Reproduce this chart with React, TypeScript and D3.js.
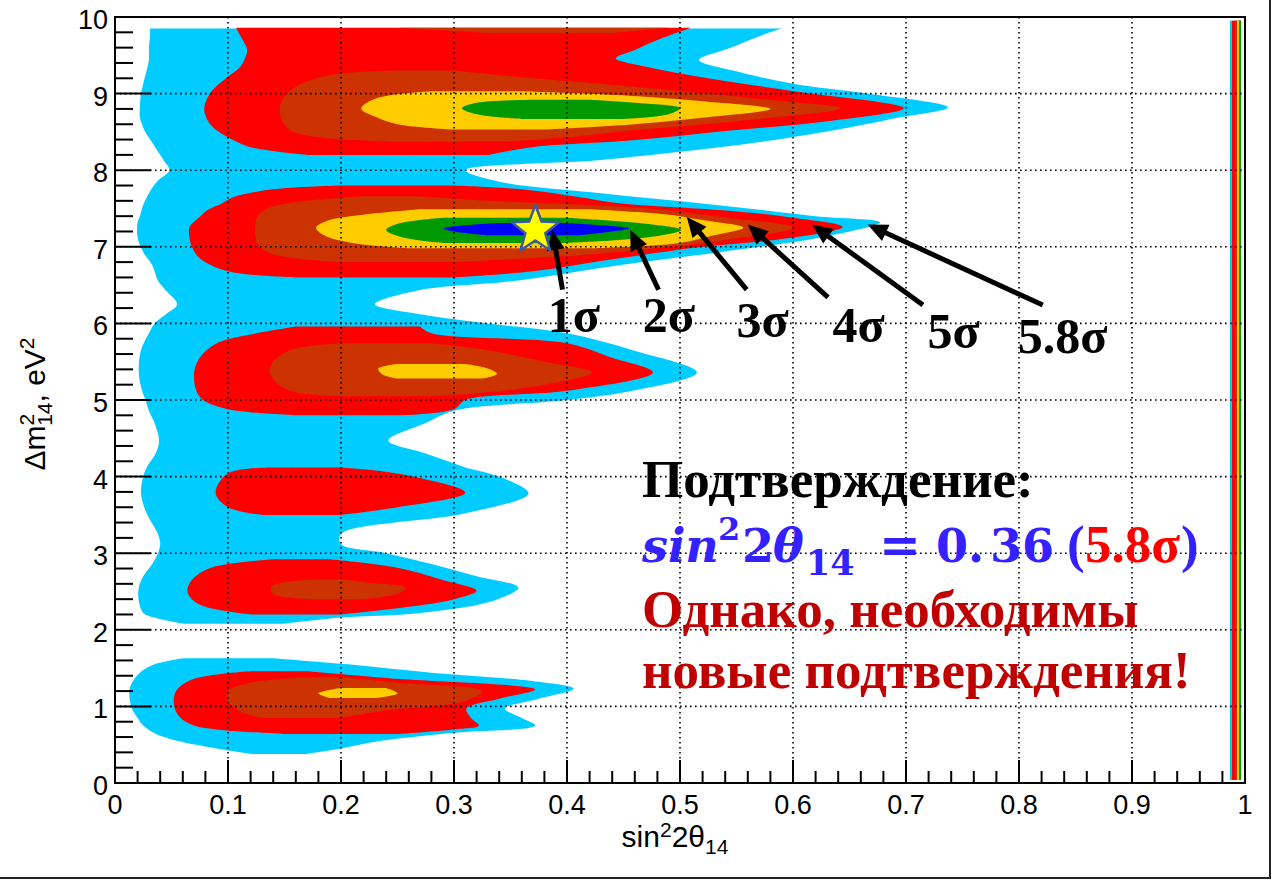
import React from "react";
import * as d3 from "d3";

const WIDTH = 1281;
const HEIGHT = 880;
const PLOT = { left: 115, right: 1245, top: 17, bottom: 783 };

// Axis ticks
const xTickValues = [0, 0.1, 0.2, 0.3, 0.4, 0.5, 0.6, 0.7, 0.8, 0.9, 1];
const xTickLabels = ["0", "0.1", "0.2", "0.3", "0.4", "0.5", "0.6", "0.7", "0.8", "0.9", "1"];
const yTickValues = [0, 1, 2, 3, 4, 5, 6, 7, 8, 9, 10];
const yTickLabels = ["0", "1", "2", "3", "4", "5", "6", "7", "8", "9", "10"];

// Each contour region: rows of [Δm², left sin²2θ, right sin²2θ]
type Row = [number, number, number];

// 5.8σ
const cyanUpper: Row[] = [
  [2.08, 0.06, 0.15], [2.16, 0.035, 0.2], [2.22, 0.025, 0.27], [2.38, 0.021, 0.335],
  [2.55, 0.021, 0.357], [2.7, 0.025, 0.32], [2.86, 0.033, 0.28], [3.0, 0.038, 0.24],
  [3.12, 0.04, 0.2], [3.25, 0.038, 0.2], [3.52, 0.028, 0.31], [3.78, 0.023, 0.366],
  [4.0, 0.025, 0.34], [4.12, 0.028, 0.31], [4.3, 0.036, 0.275], [4.47, 0.039, 0.242],
  [4.7, 0.035, 0.275], [4.86, 0.03, 0.3], [5.0, 0.027, 0.4], [5.12, 0.024, 0.458],
  [5.36, 0.021, 0.515], [5.65, 0.023, 0.458], [5.87, 0.03, 0.4], [6.0, 0.035, 0.33],
  [6.12, 0.045, 0.27], [6.25, 0.055, 0.23], [6.43, 0.045, 0.268], [6.56, 0.038, 0.357],
  [6.76, 0.033, 0.446], [6.93, 0.025, 0.535], [7.12, 0.02, 0.624], [7.32, 0.02, 0.677],
  [7.4, 0.022, 0.62], [7.55, 0.025, 0.53], [7.7, 0.03, 0.43], [7.85, 0.037, 0.34],
  [8.0, 0.048, 0.31], [8.13, 0.043, 0.428], [8.22, 0.039, 0.488], [8.38, 0.032, 0.577],
  [8.52, 0.026, 0.636], [8.69, 0.022, 0.695], [8.82, 0.022, 0.737], [9.0, 0.023, 0.666],
  [9.13, 0.025, 0.6], [9.3, 0.028, 0.547], [9.44, 0.03, 0.517], [9.6, 0.03, 0.545],
  [9.75, 0.031, 0.57], [9.85, 0.031, 0.59],
];
const cyanLower: Row[] = [
  [0.38, 0.12, 0.17], [0.45, 0.09, 0.2], [0.55, 0.055, 0.236], [0.65, 0.035, 0.295],
  [0.75, 0.025, 0.372], [0.85, 0.02, 0.36], [0.97, 0.015, 0.345], [1.1, 0.013, 0.375],
  [1.23, 0.013, 0.406], [1.33, 0.016, 0.369], [1.44, 0.022, 0.28], [1.55, 0.035, 0.206],
  [1.63, 0.06, 0.14],
];
const cyanEdge: Row[] = [[0.04, 0.9867, 0.9965], [9.95, 0.9867, 0.9965]];

// 5σ
const redTop: Row[] = [
  [8.2, 0.17, 0.33], [8.3, 0.12, 0.369], [8.39, 0.105, 0.458], [8.52, 0.09, 0.547],
  [8.65, 0.082, 0.636], [8.81, 0.079, 0.698], [9.02, 0.085, 0.606], [9.22, 0.1, 0.517],
  [9.35, 0.111, 0.47], [9.46, 0.115, 0.443], [9.57, 0.117, 0.46], [9.7, 0.113, 0.48],
  [9.86, 0.107, 0.51],
];
const redSeven: Row[] = [
  [6.6, 0.16, 0.3], [6.68, 0.1, 0.37], [6.85, 0.075, 0.446], [7.0, 0.068, 0.52],
  [7.11, 0.066, 0.595], [7.26, 0.066, 0.644], [7.39, 0.075, 0.595], [7.48, 0.082, 0.535],
  [7.57, 0.095, 0.446], [7.65, 0.105, 0.41], [7.75, 0.14, 0.36], [7.8, 0.2, 0.3],
];
const redFive: Row[] = [
  [4.8, 0.16, 0.25], [4.88, 0.1, 0.3], [5.0, 0.078, 0.31], [5.12, 0.072, 0.4],
  [5.36, 0.07, 0.476], [5.55, 0.075, 0.44], [5.74, 0.09, 0.4], [5.87, 0.125, 0.28],
  [5.96, 0.16, 0.27],
];
const redFour: Row[] = [
  [3.5, 0.13, 0.2], [3.6, 0.1, 0.25], [3.79, 0.089, 0.31], [4.04, 0.1, 0.25], [4.12, 0.14, 0.2],
];
const redTwo: Row[] = [
  [2.2, 0.12, 0.2], [2.3, 0.08, 0.26], [2.4, 0.068, 0.3], [2.51, 0.064, 0.32],
  [2.65, 0.068, 0.29], [2.81, 0.085, 0.25], [2.92, 0.14, 0.19],
];
const redOne: Row[] = [
  [0.64, 0.15, 0.25], [0.7, 0.09, 0.3], [0.75, 0.07, 0.322], [0.85, 0.058, 0.315],
  [0.97, 0.053, 0.311], [1.1, 0.052, 0.34], [1.22, 0.055, 0.372], [1.36, 0.07, 0.25],
  [1.46, 0.12, 0.17],
];
const redEdge: Row[] = [[0.04, 0.9885, 0.9965], [9.95, 0.9885, 0.9965]];

// 4σ
const brownTop: Row[] = [
  [8.37, 0.25, 0.34], [8.43, 0.18, 0.4], [8.52, 0.155, 0.458], [8.68, 0.147, 0.577],
  [8.81, 0.146, 0.642], [8.92, 0.148, 0.577], [9.09, 0.16, 0.458], [9.24, 0.19, 0.34],
  [9.3, 0.25, 0.3],
];
const brownCap: Row[] = [[9.79, 0.33, 0.44], [9.86, 0.25, 0.49]];
const brownSeven: Row[] = [
  [6.8, 0.2, 0.3], [6.9, 0.14, 0.42], [7.0, 0.128, 0.49], [7.08, 0.125, 0.535],
  [7.25, 0.124, 0.6], [7.39, 0.126, 0.535], [7.5, 0.135, 0.47], [7.6, 0.17, 0.33],
  [7.66, 0.22, 0.27],
];
const brownFive: Row[] = [
  [5.05, 0.2, 0.28], [5.1, 0.16, 0.33], [5.2, 0.145, 0.38], [5.36, 0.137, 0.422],
  [5.5, 0.14, 0.38], [5.65, 0.155, 0.33], [5.74, 0.2, 0.28],
];
const brownTwo: Row[] = [
  [2.4, 0.17, 0.22], [2.47, 0.14, 0.25], [2.55, 0.138, 0.257], [2.62, 0.15, 0.22], [2.66, 0.19, 0.2],
];
const brownOne: Row[] = [
  [0.85, 0.13, 0.2], [0.94, 0.11, 0.236], [1.07, 0.1, 0.31], [1.2, 0.1, 0.325],
  [1.31, 0.12, 0.25], [1.38, 0.17, 0.2],
];
const brownEdge: Row[] = [[0.04, 0.9912, 0.9965], [9.95, 0.9912, 0.9965]];

// 3σ
const yellowTop: Row[] = [
  [8.53, 0.3, 0.38], [8.6, 0.25, 0.46], [8.7, 0.23, 0.53], [8.8, 0.218, 0.58],
  [8.9, 0.225, 0.52], [8.97, 0.24, 0.458], [9.03, 0.28, 0.36],
];
const yellowSeven: Row[] = [
  [6.98, 0.26, 0.42], [7.05, 0.21, 0.5], [7.15, 0.185, 0.53], [7.25, 0.178, 0.556],
  [7.35, 0.19, 0.52], [7.42, 0.22, 0.49], [7.49, 0.27, 0.42],
];
const yellowFive: Row[] = [[5.28, 0.25, 0.325], [5.34, 0.236, 0.338], [5.41, 0.233, 0.33], [5.47, 0.25, 0.31]];
const yellowOne: Row[] = [[1.11, 0.19, 0.23], [1.17, 0.18, 0.25], [1.24, 0.2, 0.24]];
const yellowEdge: Row[] = [[0.04, 0.9929, 0.9965], [9.95, 0.9929, 0.9965]];

// 2σ
const greenTop: Row[] = [
  [8.67, 0.36, 0.45], [8.73, 0.32, 0.49], [8.81, 0.307, 0.5], [8.88, 0.32, 0.46], [8.92, 0.37, 0.42],
];
const greenSeven: Row[] = [
  [7.05, 0.29, 0.4], [7.12, 0.255, 0.47], [7.22, 0.24, 0.501], [7.3, 0.25, 0.47], [7.38, 0.29, 0.4],
];
const greenEdge: Row[] = [[0.04, 0.9947, 0.9965], [9.95, 0.9947, 0.9965]];

// 1σ
const blueSeven: Row[] = [
  [7.15, 0.33, 0.41], [7.2, 0.3, 0.44], [7.24, 0.291, 0.455], [7.28, 0.31, 0.43], [7.31, 0.34, 0.4],
];

const contourLevels = [
  { sigma: "5.8σ", color: "#00ccff", regions: [cyanUpper, cyanLower, cyanEdge] },
  { sigma: "5σ", color: "#ff0000", regions: [redTop, redSeven, redFive, redFour, redTwo, redOne, redEdge] },
  { sigma: "4σ", color: "#cc3300", regions: [brownTop, brownCap, brownSeven, brownFive, brownTwo, brownOne, brownEdge] },
  { sigma: "3σ", color: "#ffcc00", regions: [yellowTop, yellowSeven, yellowFive, yellowOne, yellowEdge] },
  { sigma: "2σ", color: "#009900", regions: [greenTop, greenSeven, greenEdge] },
  { sigma: "1σ", color: "#0000ff", regions: [blueSeven] },
];

// Best-fit point
const bestFit = { sin2: 0.372, dm2: 7.22 };

// Arrow annotations (data coordinates)
const arrowLabels = ["1σ", "2σ", "3σ", "4σ", "5σ", "5.8σ"];
const arrowTips: [number, number][] = [
  [0.387, 7.22], [0.456, 7.22], [0.506, 7.39], [0.56, 7.29], [0.617, 7.29], [0.666, 7.29],
];
const arrowTails: [number, number][] = [
  [0.396, 6.44], [0.481, 6.44], [0.559, 6.44], [0.631, 6.34], [0.715, 6.24], [0.821, 6.24],
];
const labelAnchors: [number, number][] = [
  [0.383, 5.89], [0.467, 5.89], [0.55, 5.82], [0.635, 5.76], [0.719, 5.68], [0.799, 5.61],
];

const SANS = "'Liberation Sans', Arial, Helvetica, sans-serif";
const SERIF = "'Liberation Serif', 'Times New Roman', serif";
const MATH = "'DejaVu Serif', serif";

function starPoints(cx: number, cy: number, R: number, r: number): [number, number][] {
  const pts: [number, number][] = [];
  for (let i = 0; i < 10; i++) {
    const a = -Math.PI / 2 + (i * Math.PI) / 5;
    const rad = i % 2 === 0 ? R : r;
    pts.push([cx + rad * Math.cos(a), cy + rad * Math.sin(a)]);
  }
  return pts;
}

export default function App() {
  const x = d3.scaleLinear().domain([0, 1]).range([PLOT.left, PLOT.right]);
  const y = d3.scaleLinear().domain([0, 10]).range([PLOT.bottom, PLOT.top]);

  const area = d3
    .area<Row>()
    .y((d) => y(d[0]))
    .x0((d) => x(d[1]))
    .x1((d) => x(d[2]))
    .curve(d3.curveCatmullRom.alpha(0.5));

  const xMinor = x.ticks(50).filter((t) => !xTickValues.some((v) => Math.abs(v - t) < 1e-6));
  const yMinor = y.ticks(50).filter((t) => !yTickValues.some((v) => Math.abs(v - t) < 1e-6));

  const star = d3.line()(starPoints(x(bestFit.sin2), y(bestFit.dm2), 25, 10.5)) + "Z";

  const arrows = arrowTips.map((tip, i) => {
    const tail = arrowTails[i];
    const tx = x(tip[0]);
    const ty = y(tip[1]);
    const sx = x(tail[0]);
    const sy = y(tail[1]);
    const len = Math.hypot(tx - sx, ty - sy);
    const ux = (tx - sx) / len;
    const uy = (ty - sy) / len;
    const headLen = 20;
    const headHalf = 9;
    const bx = tx - ux * headLen;
    const by = ty - uy * headLen;
    const head = `M${tx},${ty}L${bx - uy * headHalf},${by + ux * headHalf}L${bx + uy * headHalf},${by - ux * headHalf}Z`;
    return { sx, sy, bx: tx - ux * (headLen - 2), by: ty - uy * (headLen - 2), head };
  });

  return (
    <svg
      width={WIDTH}
      height={HEIGHT}
      style={{ position: "absolute", left: 0, top: 0, display: "block", background: "#fff" }}
    >
      <rect x={0} y={0} width={WIDTH} height={HEIGHT} fill="#fff" />

      {/* confidence regions */}
      {contourLevels.map((lvl) =>
        lvl.regions.map((reg, j) => (
          <path key={lvl.sigma + j} d={area(reg) || ""} fill={lvl.color} stroke="none" />
        ))
      )}

      {/* dotted grid */}
      {xTickValues.slice(1, -1).map((t) => (
        <line key={"gx" + t} x1={x(t)} x2={x(t)} y1={PLOT.top} y2={PLOT.bottom}
          stroke="#000" strokeWidth={1.6} strokeDasharray="1.6 3.4" />
      ))}
      {yTickValues.slice(1, -1).map((t) => (
        <line key={"gy" + t} x1={PLOT.left} x2={PLOT.right} y1={y(t)} y2={y(t)}
          stroke="#000" strokeWidth={1.6} strokeDasharray="1.6 3.4" />
      ))}

      {/* frame */}
      <rect x={PLOT.left} y={PLOT.top} width={PLOT.right - PLOT.left} height={PLOT.bottom - PLOT.top}
        fill="none" stroke="#000" strokeWidth={2} />

      {/* x ticks */}
      {xTickValues.map((t) => (
        <line key={"xt" + t} x1={x(t)} x2={x(t)} y1={PLOT.bottom} y2={PLOT.bottom - 23} stroke="#000" strokeWidth={2} />
      ))}
      {xMinor.map((t) => (
        <line key={"xm" + t} x1={x(t)} x2={x(t)} y1={PLOT.bottom} y2={PLOT.bottom - 12} stroke="#000" strokeWidth={2} />
      ))}
      {/* y ticks */}
      {yTickValues.map((t) => (
        <line key={"yt" + t} x1={PLOT.left} x2={PLOT.left + 36} y1={y(t)} y2={y(t)} stroke="#000" strokeWidth={2} />
      ))}
      {yMinor.map((t) => (
        <line key={"ym" + t} x1={PLOT.left} x2={PLOT.left + 18} y1={y(t)} y2={y(t)} stroke="#000" strokeWidth={2} />
      ))}

      {/* tick labels */}
      {xTickValues.map((t, i) => (
        <text key={"xl" + t} x={x(t)} y={PLOT.bottom + 31} textAnchor="middle"
          fontFamily={SANS} fontSize={27} fill="#000">{xTickLabels[i]}</text>
      ))}
      {yTickValues.map((t, i) => (
        <text key={"yl" + t} x={PLOT.left - 7} y={y(t) + 12} textAnchor="end"
          fontFamily={SANS} fontSize={27} fill="#000">{yTickLabels[i]}</text>
      ))}

      {/* axis titles */}
      <text x={675} y={847} textAnchor="middle" fontFamily={SANS} fontSize={30} fill="#000">
        sin<tspan dy={-10} fontSize={21}>2</tspan><tspan dy={10}>2θ</tspan>
        <tspan dy={7} fontSize={21}>14</tspan>
      </text>
      <text transform="translate(45,404) rotate(-90)" textAnchor="middle" fontFamily={SANS} fontSize={30} fill="#000">
        Δm<tspan dy={-11} fontSize={21}>2</tspan>
        <tspan dx={-12} dy={18} fontSize={21}>14</tspan>
        <tspan dy={-7}>, eV</tspan>
        <tspan dy={-11} fontSize={21}>2</tspan>
      </text>

      {/* arrows */}
      {arrows.map((a, i) => (
        <g key={"ar" + i}>
          <line x1={a.sx} y1={a.sy} x2={a.bx} y2={a.by} stroke="#000" strokeWidth={5} />
          <path d={a.head} fill="#000" />
        </g>
      ))}
      {arrowLabels.map((lab, i) => (
        <text key={"al" + i} x={x(labelAnchors[i][0])} y={y(labelAnchors[i][1])}
          fontFamily={SERIF} fontWeight="bold" fontSize={50} fill="#000">{lab}</text>
      ))}

      {/* best-fit point */}
      <path d={star} fill="#ffff00" stroke="#3d5a9c" strokeWidth={2.5} strokeLinejoin="miter" />

      {/* annotation text */}
      <text x={642} y={497} fontFamily={SERIF} fontWeight="bold" fontSize={53} fill="#000">Подтверждение:</text>
      <g fontWeight="bold" fill="#3322ff">
        <text x={642} y={562} fontFamily={MATH} fontSize={46} fontStyle="italic">sin</text>
        <text x={718} y={540} fontFamily={MATH} fontSize={32}>2</text>
        <text x={742} y={562} fontFamily={MATH} fontSize={46}>2</text>
        <text x={773} y={562} fontFamily={MATH} fontSize={46} fontStyle="italic">θ</text>
        <text x={806} y={575} fontFamily={MATH} fontSize={35}>14</text>
        <text x={879} y={562} fontFamily={MATH} fontSize={50}>=</text>
        <text x={936} y={562} fontFamily={MATH} fontSize={46}>0.</text>
        <text x={990} y={562} fontFamily={MATH} fontSize={46}>36</text>
        <text x={1067} y={562} fontFamily={SERIF} fontSize={53}>(</text>
        <text x={1085} y={562} fontFamily={SERIF} fontSize={53} fill="#ff0000">5.8σ</text>
        <text x={1181} y={562} fontFamily={SERIF} fontSize={53}>)</text>
      </g>
      <text x={642} y={627} fontFamily={SERIF} fontWeight="bold" fontSize={53} fill="#c00000">Однако, необходимы</text>
      <text x={642} y={688} fontFamily={SERIF} fontWeight="bold" fontSize={53} fill="#c00000">новые подтверждения!</text>

      {/* canvas border */}
      <line x1={1270} x2={1270} y1={0} y2={879} stroke="#222" strokeWidth={2} />
      <line x1={0} x2={1271} y1={878} y2={878} stroke="#222" strokeWidth={2} />
    </svg>
  );
}
